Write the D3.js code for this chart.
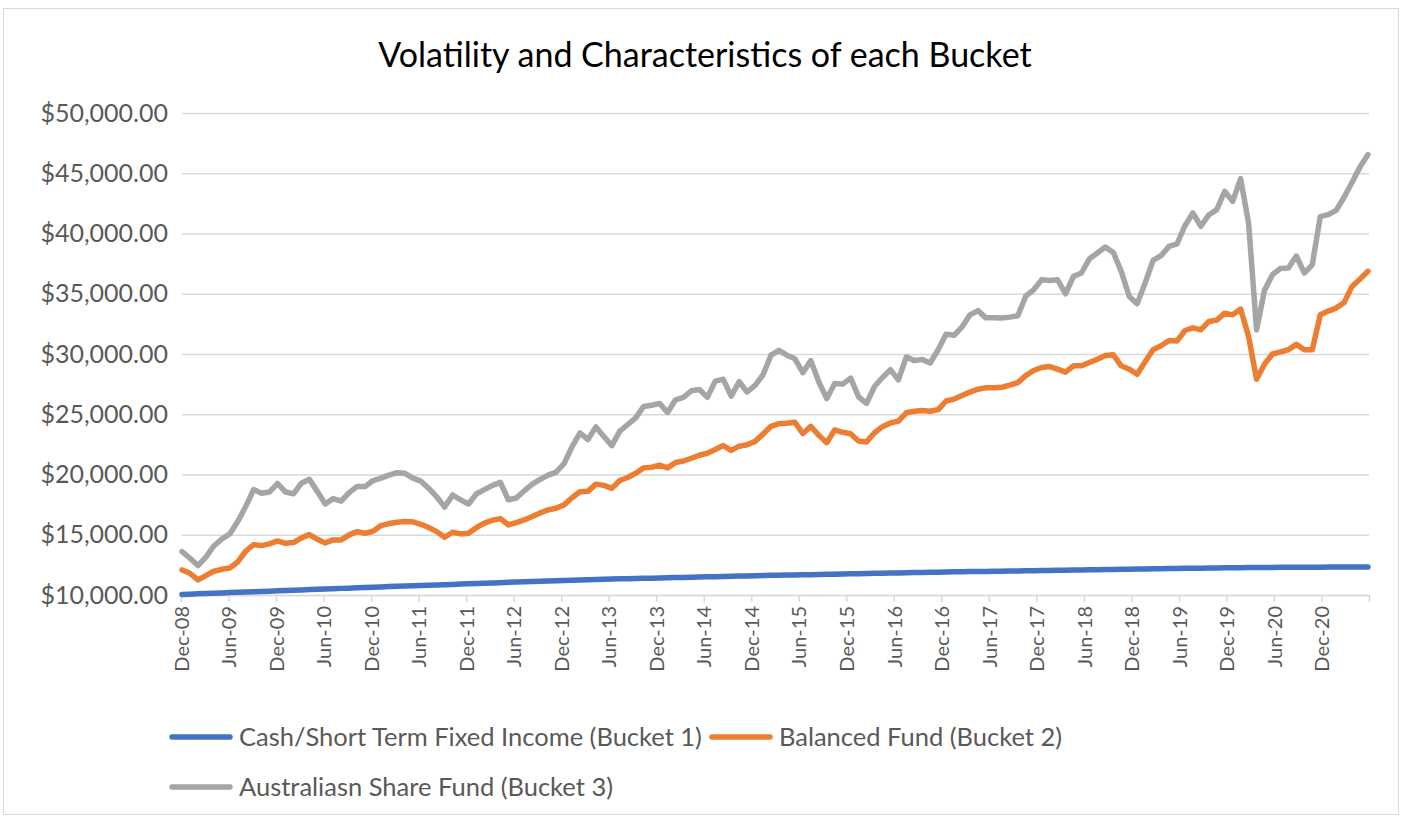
<!DOCTYPE html>
<html>
<head>
<meta charset="utf-8">
<script src="https://cdn.jsdelivr.net/npm/d3@7"></script>
<style>
  body { margin: 0; background: #fff; }
  svg { display: block; font-family: Lato, "Open Sans", sans-serif; }
</style>
</head>
<body>
<svg id="chart" width="1408" height="820"></svg>
<script>
// monthly values, Dec-08 .. May-21
var cash = [
  10050,10070,10100,10120,10150,10170,10200,10220,10250,10270,
  10300,10320,10350,10370,10400,10420,10450,10470,10500,10520,
  10550,10570,10600,10620,10650,10670,10700,10720,10740,10770,
  10790,10810,10840,10860,10880,10910,10930,10950,10980,11000,
  11020,11050,11070,11090,11120,11140,11170,11190,11210,11230,
  11250,11270,11290,11300,11320,11340,11350,11370,11390,11400,
  11420,11430,11450,11460,11480,11490,11510,11520,11540,11550,
  11570,11580,11600,11610,11630,11640,11650,11670,11680,11690,
  11710,11720,11730,11750,11760,11770,11780,11800,11810,11820,
  11830,11850,11860,11870,11880,11890,11900,11920,11930,11940,
  11950,11960,11970,11980,11990,12000,12010,12020,12030,12040,
  12050,12060,12070,12080,12090,12100,12110,12120,12130,12140,
  12150,12160,12170,12180,12190,12200,12210,12220,12230,12240,
  12250,12260,12270,12270,12280,12280,12290,12290,12300,12300,
  12300,12310,12310,12310,12320,12320,12320,12320,12330,12330
];
var balanced = [
  12080,11800,11250,11610,11970,12130,12240,12740,13630,14180,
  14100,14240,14490,14290,14350,14740,15010,14630,14320,14570,
  14570,14990,15260,15120,15290,15760,15930,16040,16090,16070,
  15870,15600,15260,14790,15210,15070,15120,15600,15960,16200,
  16340,15820,16010,16230,16510,16810,17060,17200,17480,18070,
  18570,18600,19200,19100,18850,19500,19750,20100,20550,20600,
  20780,20550,21000,21120,21350,21600,21760,22080,22400,22000,
  22350,22470,22750,23350,24000,24220,24250,24330,23400,24000,
  23250,22640,23700,23500,23380,22780,22700,23470,23970,24270,
  24430,25120,25250,25310,25250,25380,26100,26260,26550,26840,
  27080,27200,27200,27240,27410,27630,28210,28630,28880,28960,
  28740,28490,29020,29020,29290,29570,29880,29930,29020,28740,
  28320,29350,30350,30680,31120,31070,31950,32170,32010,32700,
  32810,33390,33250,33730,31450,27900,29150,30000,30180,30350,
  30800,30350,30350,33250,33560,33810,34280,35610,36220,36860
];
var shares = [
  13600,13050,12440,13150,14070,14650,15070,16090,17340,18750,
  18450,18550,19250,18550,18400,19280,19600,18600,17550,18000,
  17800,18500,19000,19000,19500,19700,19950,20150,20100,19700,
  19450,18850,18150,17300,18300,17900,17550,18400,18750,19100,
  19350,17900,18050,18650,19200,19600,19950,20200,20900,22300,
  23450,22900,23950,23150,22400,23600,24150,24700,25650,25750,
  25900,25150,26200,26400,26950,27050,26400,27750,27900,26500,
  27700,26850,27400,28280,29900,30300,29900,29600,28450,29450,
  27700,26300,27550,27500,28000,26450,25900,27300,28050,28700,
  27850,29750,29450,29550,29250,30350,31650,31550,32250,33250,
  33600,33000,33000,32980,33060,33170,34800,35330,36160,36100,
  36160,35000,36440,36720,37900,38380,38880,38430,36860,34780,
  34170,35890,37770,38160,38930,39130,40650,41700,40600,41540,
  41980,43500,42670,44550,40850,32000,35300,36580,37100,37140,
  38130,36720,37400,41400,41560,41920,43010,44250,45530,46550
];
var tickLabels = ["Dec-08","Jun-09","Dec-09","Jun-10","Dec-10","Jun-11","Dec-11","Jun-12",
  "Dec-12","Jun-13","Dec-13","Jun-14","Dec-14","Jun-15","Dec-15","Jun-16","Dec-16",
  "Jun-17","Dec-17","Jun-18","Dec-18","Jun-19","Dec-19","Jun-20","Dec-20"];
var yTicks = [10000,15000,20000,25000,30000,35000,40000,45000,50000];
var seriesNames = ["Cash/Short Term Fixed Income (Bucket 1)","Balanced Fund (Bucket 2)","Australiasn Share Fund (Bucket 3)"];
var seriesColors = ["#4472c4","#ed7d31","#a5a5a5"];

drawChart(1408, 820);

function drawChart(width, height){
    var svg = d3.select("#chart");
    var left = 182, right = 1369, top = 113, bottom = 595;
    var grid = "#d9d9d9", textCol = "#595959";

    svg.append("rect").attr("x",3.5).attr("y",8.5).attr("width",1395).attr("height",806)
        .attr("fill","#fff").attr("stroke",grid).attr("stroke-width",1);

    svg.append("text").attr("x",705).attr("y",67).attr("text-anchor","middle")
        .style("font-size","34px").style("fill","#000")
        .text("Volatility and Characteristics of each Bucket");

    var y = d3.scaleLinear().domain([10000,50000]).range([bottom, top]);
    // month ticks run to Jun-21, the data points span the same width
    var xTick = d3.scaleLinear().domain([0, tickLabels.length * 6]).range([left - 1, right]);
    var x = d3.scaleLinear().domain([0, cash.length - 1]).range([left, right - 1]);

    var yAxis = d3.axisLeft(y).tickValues(yTicks)
        .tickSize(-(right - left)).tickPadding(14)
        .tickFormat(function(d){ return "$" + d3.format(",.2f")(d); });
    var gy = svg.append("g").attr("transform","translate(" + left + ",0)").call(yAxis);
    gy.select(".domain").remove();
    gy.selectAll(".tick line").attr("stroke",grid).attr("stroke-width",1.5);
    gy.selectAll(".tick text").attr("fill",textCol).style("font-size","25px").style("font-family","Lato");

    var monthTicks = d3.range(0, tickLabels.length * 6 + 1, 6);
    var xAxis = d3.axisBottom(xTick).tickValues(monthTicks).tickSize(7).tickSizeOuter(0)
        .tickFormat(function(d){ return tickLabels[d / 6] || ""; });
    var gx = svg.append("g").attr("transform","translate(0," + bottom + ")").call(xAxis);
    gx.select(".domain").attr("stroke",grid).attr("stroke-width",1.5);
    gx.selectAll(".tick line").attr("stroke",grid).attr("stroke-width",1.5);
    gx.selectAll(".tick text").attr("fill",textCol).style("font-size","20px").style("font-family","Lato")
        .attr("text-anchor","end").attr("transform","rotate(-90)")
        .attr("x",-11).attr("y",0).attr("dy","0.36em");

    var line = d3.line().x(function(d, i){ return x(i); }).y(function(d){ return y(d); });
    [cash, balanced, shares].forEach(function(s, i){
        svg.append("path").datum(s).attr("d", line)
            .attr("fill","none").attr("stroke",seriesColors[i]).attr("stroke-width",5.5)
            .attr("stroke-linejoin","round").attr("stroke-linecap","round");
    });

    // legend
    var rows = [[0,1],[2]], rowY = [737, 787];
    rows.forEach(function(r, ri){
        var cx = 172;
        r.forEach(function(si){
            svg.append("line").attr("x1",cx).attr("x2",cx + 58).attr("y1",rowY[ri]).attr("y2",rowY[ri])
                .attr("stroke",seriesColors[si]).attr("stroke-width",5.5).attr("stroke-linecap","round");
            var t = svg.append("text").attr("x",cx + 67).attr("y",rowY[ri]).attr("dy","0.35em")
                .style("font-size","25.5px").style("fill",textCol).text(seriesNames[si]);
            cx = cx + 67 + t.node().getComputedTextLength() + 10;
        });
    });
}
</script>
</body>
</html>
